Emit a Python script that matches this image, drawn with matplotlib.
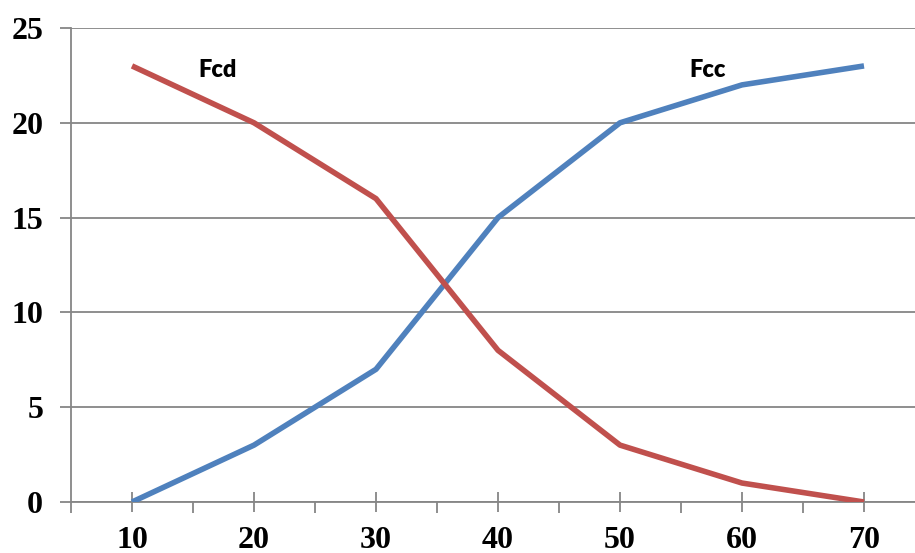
import matplotlib
matplotlib.use('Agg')
import matplotlib.pyplot as plt
import numpy as np
from matplotlib.ticker import FixedLocator

categories = ['10', '20', '30', '40', '50', '60', '70']
fcc = [0, 3, 7, 15, 20, 22, 23]
fcd = [23, 20, 16, 8, 3, 1, 0]

blue = '#4F81BD'
red = '#C0504D'
grey = '#868686'

fig = plt.figure(figsize=(9.15, 5.53), dpi=100)
ax = fig.add_axes([71 / 915, 1 - 502 / 553, 854 / 915, 474 / 553])

x = np.arange(len(categories))
ax.plot(x, fcc, color=blue, lw=4, solid_capstyle='butt', zorder=3)
ax.plot(x, fcd, color=red, lw=4, solid_capstyle='butt', zorder=4)

ax.text(0.7, 22.8, 'Fcd', family='Lato', weight='heavy', fontsize=17,
        ha='center', va='center')
ax.text(4.72, 22.8, 'Fcc', family='Lato', weight='heavy', fontsize=17,
        ha='center', va='center')

ax.set_xlim(-0.5, len(categories) - 0.5)
ax.set_ylim(0, 25)
ax.set_yticks([0, 5, 10, 15, 20, 25])
ax.set_xticks(x)
ax.set_xticklabels(categories)
ax.xaxis.set_minor_locator(FixedLocator(np.arange(-0.5, len(categories), 1.0)))

ax.yaxis.grid(True, color=grey, lw=1.3)
ax.set_axisbelow(True)
for s in ['top', 'right']:
    ax.spines[s].set_visible(False)
for s in ['left', 'bottom']:
    ax.spines[s].set_color(grey)
    ax.spines[s].set_linewidth(1.3)

ax.tick_params(axis='y', direction='out', length=8, width=1.3, color=grey, pad=12)
ax.tick_params(axis='x', which='major', direction='inout', length=14, width=1.3,
               color=grey, pad=10)
ax.tick_params(axis='x', which='minor', direction='out', length=8, width=1.3,
               color=grey)
for lbl in ax.get_xticklabels() + ax.get_yticklabels():
    lbl.set_family('Liberation Serif')
    lbl.set_weight('bold')
    lbl.set_fontsize(23)

fig.savefig('out.png', dpi=100)
